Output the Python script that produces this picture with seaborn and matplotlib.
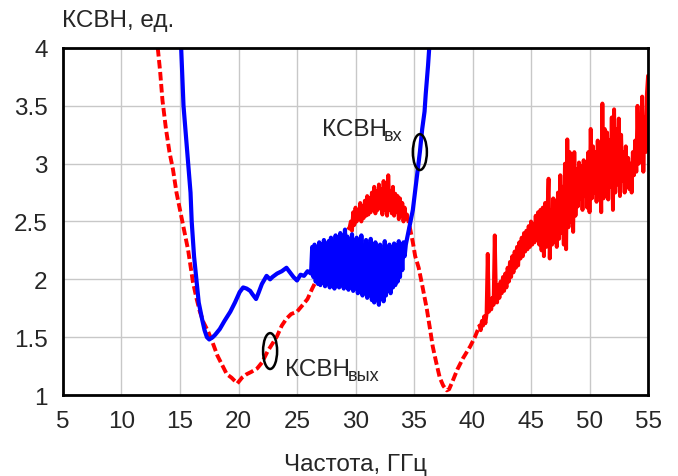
import numpy as np
import matplotlib
matplotlib.use("Agg")
import matplotlib.pyplot as plt
import seaborn as sns
from matplotlib.patches import Ellipse

# КСВН вх (синяя) - гладкий участок до шумовой полосы
blue_x1 = [15.1, 15.3, 15.5, 15.7, 15.9, 16.0, 16.2, 16.4, 16.6, 16.9, 17.1, 17.3, 17.5, 17.8,
           18.0, 18.4, 18.8, 19.3, 19.7, 20.1, 20.4, 20.7, 21.0, 21.2, 21.5, 21.7, 22.0, 22.4,
           22.7, 22.9, 23.3, 23.7, 24.1, 24.4, 24.7, 25.0, 25.3, 25.6, 25.9, 26.2]
blue_y1 = [4.0, 3.5, 3.25, 3.0, 2.75, 2.5, 2.2, 2.0, 1.8, 1.65, 1.56, 1.5, 1.48, 1.5,
           1.52, 1.57, 1.64, 1.72, 1.8, 1.89, 1.93, 1.92, 1.9, 1.87, 1.83, 1.88, 1.96, 2.03,
           2.0, 2.02, 2.05, 2.07, 2.1, 2.06, 2.02, 1.99, 2.04, 2.03, 2.07, 2.05]
# шумовая полоса 26.3 ... 34.2 ГГц, шаг 0.1
blue_y2 = [2.28, 2.02, 2.3, 1.98, 2.25, 1.96, 2.32, 1.95, 2.3, 1.97,
           2.34, 1.94, 2.28, 1.96, 2.33, 1.93, 2.36, 1.95, 2.31, 1.92,
           2.38, 1.96, 2.34, 1.93, 2.4, 1.95, 2.35, 1.92, 2.43, 1.94,
           2.37, 1.91, 2.33, 1.95, 2.39, 1.9, 2.3, 1.93, 2.36, 1.88,
           2.32, 1.91, 2.38, 1.86, 2.28, 1.89, 2.34, 1.84, 2.3, 1.87,
           2.35, 1.82, 2.27, 1.8, 2.32, 1.83, 2.26, 1.78, 2.3, 1.85,
           2.25, 1.81, 2.33, 1.86, 2.28, 1.9, 2.3, 1.88, 2.27, 1.93,
           2.31, 1.95, 2.29, 1.98, 2.33, 2.02, 2.3, 2.08, 2.32, 2.2]
blue_x3 = [34.3, 34.6, 34.9, 35.2, 35.5, 35.7, 35.9, 36.0, 36.2, 36.3]
blue_y3 = [2.3, 2.45, 2.6, 2.85, 3.1, 3.3, 3.45, 3.6, 3.85, 4.0]

# КСВН вых (красная)
red_x1 = [13.1, 13.3, 13.5, 13.8, 14.1, 14.4, 14.7, 15.0, 15.3, 15.7, 16.1, 16.4, 16.7, 17.0,
          17.4, 17.8, 18.2, 18.6, 19.0, 19.4, 19.9, 20.3, 20.7, 21.1, 21.6, 22.0, 22.5, 23.0,
          23.3, 23.7, 24.1, 24.5, 25.0, 25.5, 25.9, 26.3, 26.7, 27.1, 27.5, 28.0, 28.5, 29.0, 29.5]
red_y1 = [4.0, 3.8, 3.55, 3.3, 3.1, 2.95, 2.75, 2.6, 2.45, 2.25, 1.98, 1.84, 1.72, 1.63,
          1.55, 1.45, 1.34, 1.26, 1.18, 1.15, 1.1, 1.15, 1.18, 1.2, 1.23, 1.28, 1.38, 1.46,
          1.51, 1.6, 1.66, 1.7, 1.72, 1.78, 1.83, 1.92, 2.0, 2.08, 2.15, 2.22, 2.3, 2.38, 2.45]
# 29.6 ... 34.4 ГГц, шаг 0.1
red_y2 = [2.5, 2.42, 2.58, 2.47, 2.62, 2.5, 2.6, 2.52, 2.66, 2.5,
          2.63, 2.53, 2.68, 2.55, 2.72, 2.56, 2.7, 2.58, 2.75, 2.6,
          2.8, 2.57, 2.76, 2.6, 2.82, 2.62, 2.78, 2.56, 2.85, 2.6,
          2.8, 2.55, 2.9, 2.6, 2.76, 2.57, 2.8, 2.55, 2.74, 2.58,
          2.72, 2.52, 2.7, 2.55, 2.66, 2.5, 2.62, 2.52, 2.56]
red_x3 = [34.4, 34.7, 34.9, 35.1, 35.4, 35.7, 36.1, 36.4, 36.6, 36.9, 37.2, 37.5, 37.8, 38.0,
          38.3, 38.7, 39.2, 39.8, 40.2, 40.6]
red_y3 = [2.56, 2.42, 2.32, 2.2, 2.1, 1.95, 1.74, 1.55, 1.42, 1.28, 1.15, 1.08, 1.04, 1.05,
          1.12, 1.22, 1.32, 1.42, 1.5, 1.6]
# 40.6 ... 55.0 ГГц, шаг 0.1
red_y4 = [1.6, 1.56, 1.64, 1.6,
          1.68, 1.62, 1.7, 2.22, 1.72, 1.8, 1.74, 1.84, 1.78, 2.38,
          1.86, 1.8, 1.95, 1.84, 1.98, 1.88, 2.02, 1.9, 2.05, 1.93,
          2.1, 1.98, 2.15, 2.02, 2.2, 2.06, 2.24, 2.1, 2.28, 2.12,
          2.32, 2.18, 2.36, 2.2, 2.4, 2.24, 2.42, 2.26, 2.46, 2.28,
          2.5, 2.3, 2.48, 2.32, 2.55, 2.34, 2.58, 2.3, 2.6, 2.25,
          2.62, 2.2, 2.66, 2.28, 2.58, 2.87, 2.18, 2.6, 2.3, 2.7,
          2.32, 2.68, 2.28, 2.75, 2.35, 2.9, 2.4, 2.8, 2.3, 3.0,
          2.26, 3.21, 2.45, 3.1, 2.5, 3.05, 2.41, 3.1, 2.55, 2.95,
          2.63, 3.01, 2.7, 2.98, 2.6, 3.03, 2.72, 2.95, 2.62, 3.1,
          2.58, 3.3, 2.7, 3.15, 2.75, 3.1, 2.67, 3.2, 2.8, 3.05,
          2.58, 3.52, 2.7, 3.3, 2.75, 3.27, 2.69, 3.2, 2.8, 3.4,
          2.6, 3.47, 2.75, 3.3, 2.82, 3.39, 2.72, 3.25, 2.85, 3.1,
          2.75, 3.15, 2.85, 3.05, 2.78, 3.0, 2.75, 3.1, 2.9, 3.2,
          2.93, 3.5, 3.0, 3.3, 3.05, 3.58, 2.93, 3.4, 3.1, 3.6,
          3.76]

blue_x = blue_x1 + list(np.round(np.linspace(26.3, 34.2, len(blue_y2)), 2)) + blue_x3
blue_y = blue_y1 + blue_y2 + blue_y3
red_x2 = list(np.round(np.linspace(29.6, 34.4, len(red_y2)), 2))
red_x4 = list(np.round(np.linspace(40.6, 55.0, len(red_y4)), 2))

sns.set_style("white")
plt.rcParams['font.family'] = ['Liberation Sans', 'DejaVu Sans']
FS = 17.5

fig = plt.figure(figsize=(6.78, 4.77), dpi=100)
ax = fig.add_axes([0.0929, 0.1698, 0.8629, 0.7275])

# гладкие участки пунктиром, шумовые — сплошной (там пунктир сливается)
for xs, ys, ls in [(red_x1 + [29.6], red_y1 + [2.5], (0, (2.2, 0.9))),
                   (red_x2, red_y2, "-"),
                   (red_x3, red_y3, (0, (2.2, 0.9))),
                   (red_x4, red_y4, "-")]:
    sns.lineplot(x=xs, y=ys, sort=False, estimator=None, color="#ff0000",
                 linewidth=2.8, linestyle=ls, ax=ax)
sns.lineplot(x=blue_x, y=blue_y, sort=False, estimator=None, color="#0000ff",
             linewidth=3.0, ax=ax)

ax.set_xlim(5, 55)
ax.set_ylim(1, 4)
ax.set_xticks(np.arange(5, 56, 5))
ax.set_yticks([1, 1.5, 2, 2.5, 3, 3.5, 4])
ax.set_yticklabels(["1", "1.5", "2", "2.5", "3", "3.5", "4"])
ax.grid(True, color="#c8c8c8", linewidth=1)
ax.tick_params(length=0, labelsize=FS)
ax.tick_params(axis="x", pad=11)
ax.tick_params(axis="y", pad=11)
for s in ax.spines.values():
    s.set_visible(True)
    s.set_color("black")
    s.set_linewidth(2)

ax.set_xlabel("Частота, ГГц", fontsize=FS, labelpad=15)
ax.set_ylabel("")
fig.text(62 / 678, 1 - 21 / 477, "КСВН, ед.", fontsize=FS, ha="left", va="center")

# подписи кривых
ax.text(27.1, 3.3, "КСВН", fontsize=FS, ha="left", va="center")
ax.text(32.45, 3.24, "вх", fontsize=13, ha="left", va="center")
ax.add_patch(Ellipse((35.5, 3.1), 1.2, 0.31, fill=False, edgecolor="black", linewidth=1.8, zorder=5))

ax.text(24.0, 1.225, "КСВН", fontsize=FS, ha="left", va="center")
ax.text(29.35, 1.165, "вых", fontsize=13, ha="left", va="center")
ax.add_patch(Ellipse((22.7, 1.38), 1.2, 0.31, fill=False, edgecolor="black", linewidth=1.8, zorder=5))

fig.savefig("out.png", dpi=100)
